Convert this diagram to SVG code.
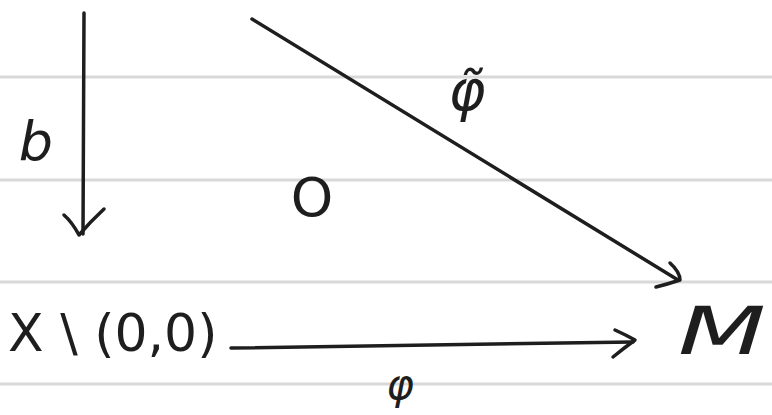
<svg xmlns="http://www.w3.org/2000/svg" width="772" height="415" viewBox="0 0 772 415">
<style>
.rule{stroke:#d9d9d9;stroke-width:3}
.ln{stroke:#1e1e1e;stroke-width:3.5;fill:none;stroke-linecap:round;stroke-linejoin:round}
.t{font-family:"DejaVu Sans","Liberation Sans",sans-serif;fill:#1e1e1e}
</style>
<rect width="772" height="415" fill="#ffffff"/>
<g id="paper">
<line class="rule" x1="0" y1="77" x2="772" y2="77"/>
<line class="rule" x1="0" y1="180" x2="772" y2="180"/>
<line class="rule" x1="0" y1="282" x2="772" y2="282"/>
<line class="rule" x1="0" y1="384" x2="772" y2="384"/>
</g>
<g id="connectors">
<path class="ln" d="M84 13 L83 234"/>
<path class="ln" d="M64 215 Q72 222 79 235 Q90 222 104 209"/>
<path class="ln" d="M252 19 L678 280"/>
<path class="ln" d="M670 263 Q680 272 680 280 Q668 284 656 287"/>
<path class="ln" d="M231 348 L633 342"/>
<path class="ln" d="M615 330 Q626 335 635 340 Q624 348 613 357"/>
<text class="t" x="36" y="160" font-size="54" font-style="italic" text-anchor="middle">b</text>
<text class="t" x="467" y="110" font-size="56" font-style="italic" text-anchor="middle">φ̃</text>
<text class="t" x="400" y="399" font-size="42" font-style="italic" text-anchor="middle">φ</text>
<text class="t" x="312" y="216" font-size="54" text-anchor="middle">O</text>
</g>
<g id="node-x">
<text class="t" x="8" y="351" font-size="52">X \ (0,0)</text>
</g>
<g id="node-m">
<text class="t" x="678" y="354" font-size="66" font-style="italic" textLength="88" lengthAdjust="spacingAndGlyphs">M</text>
</g>
</svg>
